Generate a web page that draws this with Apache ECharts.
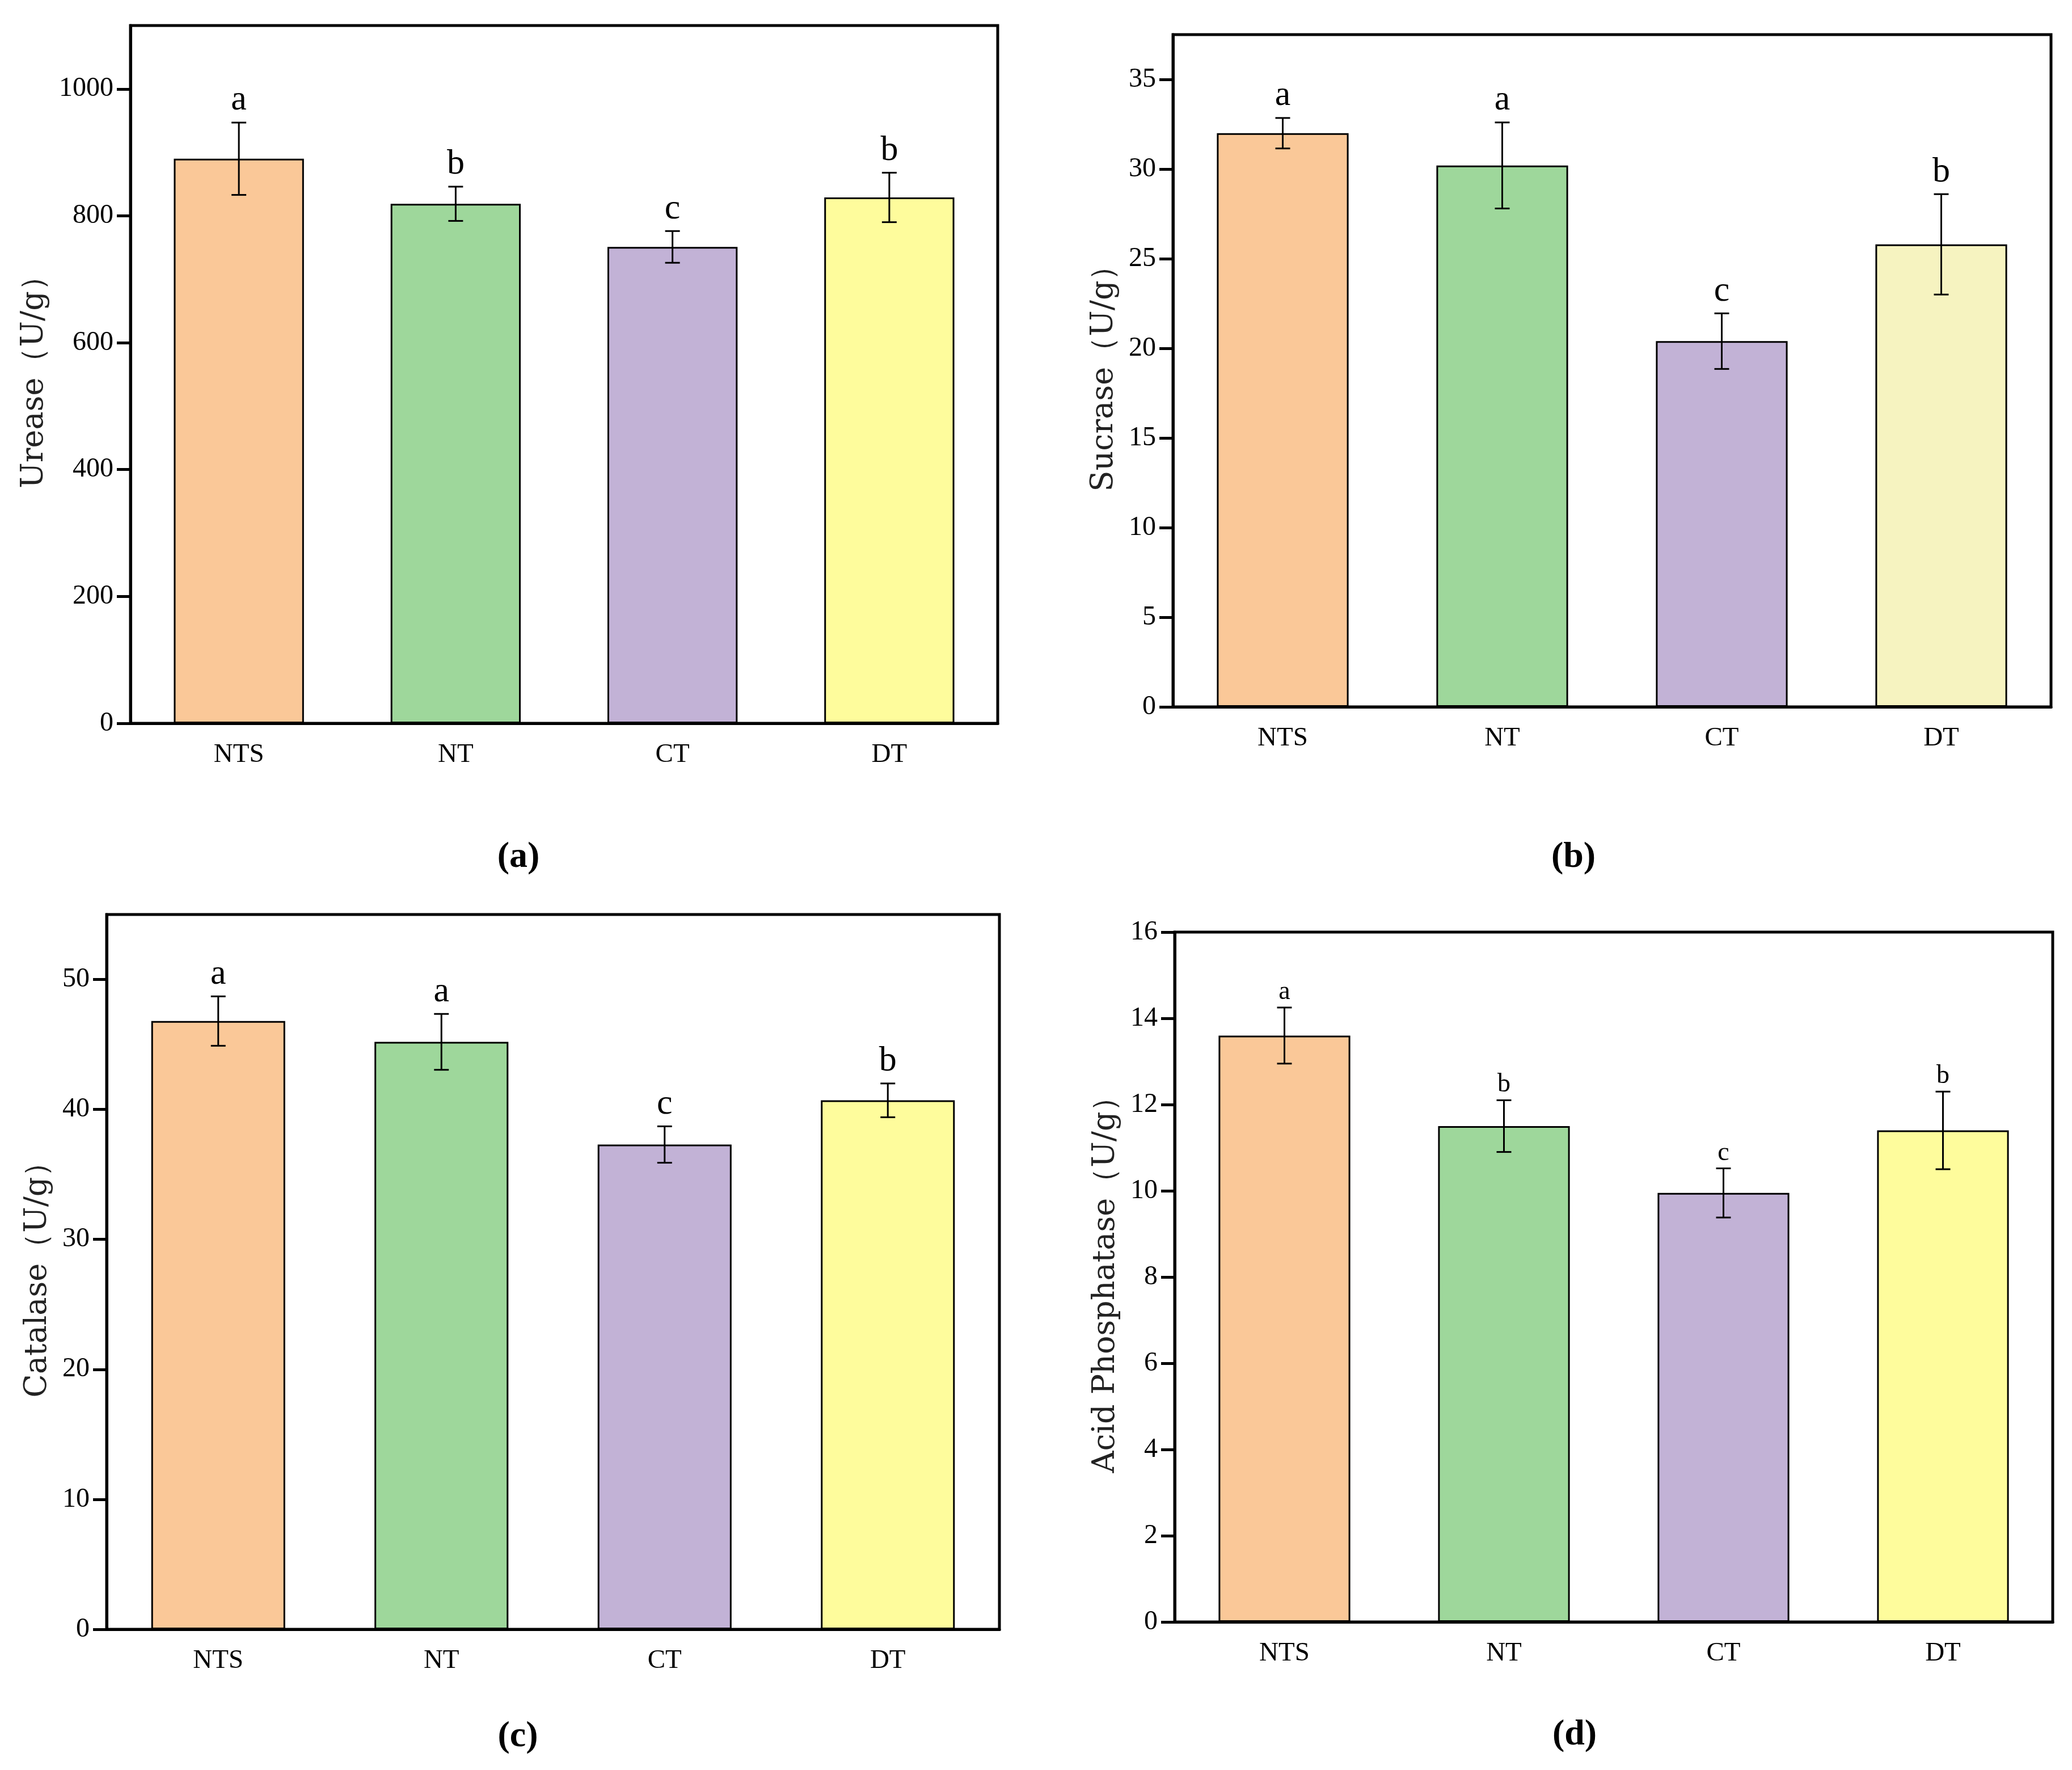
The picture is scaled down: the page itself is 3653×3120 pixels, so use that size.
<!DOCTYPE html>
<html>
<head>
<meta charset="utf-8">
<script src="https://cdn.jsdelivr.net/npm/echarts@6/dist/echarts.min.js"></script>
<style>
  html, body { margin: 0; padding: 0; background: #fff; }
  #main { width: 3653px; height: 3120px; }
</style>
</head>
<body>
<div id="main"></div>
<script>
var categories = ['NTS', 'NT', 'CT', 'DT'];

// (a) Urease
var ureaseMean = [890, 819, 751, 829];
var ureaseErr = [57, 27, 25, 39];
var ureaseSig = ['a', 'b', 'c', 'b'];
var ureaseTicks = [0, 200, 400, 600, 800, 1000];

// (b) Sucrase
var sucraseMean = [32.0, 30.2, 20.4, 25.8];
var sucraseErr = [0.85, 2.4, 1.55, 2.8];
var sucraseSig = ['a', 'a', 'c', 'b'];
var sucraseTicks = [0, 5, 10, 15, 20, 25, 30, 35];

// (c) Catalase
var catalaseMean = [46.8, 45.2, 37.3, 40.7];
var catalaseErr = [1.9, 2.15, 1.4, 1.3];
var catalaseSig = ['a', 'a', 'c', 'b'];
var catalaseTicks = [0, 10, 20, 30, 40, 50];

// (d) Acid phosphatase
var acpMean = [13.6, 11.5, 9.95, 11.4];
var acpErr = [0.65, 0.6, 0.57, 0.9];
var acpSig = ['a', 'b', 'c', 'b'];
var acpTicks = [0, 2, 4, 6, 8, 10, 12, 14, 16];

var barColors = ['#FAC898', '#9ED79B', '#C2B2D6', '#FEFC9C'];
var barColorsB = ['#FAC898', '#9ED79B', '#C2B2D6', '#F6F3C0'];

var myChart = echarts.init(document.getElementById('main'));
var tickFont = 'Liberation Serif';

var grids = [
  { left: 230, top: 45, width: 1529, height: 1230 },
  { left: 2068, top: 61, width: 1548, height: 1185 },
  { left: 188, top: 1612, width: 1574, height: 1260 },
  { left: 2071, top: 1643, width: 1548, height: 1216 }
];
grids.forEach(function (g) {
  g.show = true;
  g.borderColor = '#000';
  g.borderWidth = 5;
  g.backgroundColor = 'transparent';
});

function xAx(idx) {
  return {
    type: 'category', gridIndex: idx, data: categories,
    axisTick: { show: false },
    axisLine: { lineStyle: { color: '#000', width: 5 } },
    axisLabel: { color: '#000', fontFamily: tickFont, fontSize: 47, margin: 32 }
  };
}
function yAx(idx, max, interval, ticks, name, gap) {
  return {
    type: 'value', gridIndex: idx, min: 0, max: max, interval: interval,
    name: name, nameLocation: 'middle', nameGap: gap,
    nameTextStyle: { color: '#222', fontFamily: 'DejaVu Serif', fontSize: 54 },
    splitLine: { show: false },
    axisLine: { show: true, lineStyle: { color: '#000', width: 5 } },
    axisTick: { show: true, inside: false, length: 24, lineStyle: { color: '#000', width: 5 }, customValues: ticks },
    axisLabel: {
      color: '#000', fontFamily: tickFont, fontSize: 48, margin: 30, customValues: ticks,
      formatter: function (v) { return String(v); }
    }
  };
}

function barSeries(idx, means, colors) {
  return {
    type: 'bar', xAxisIndex: idx, yAxisIndex: idx, barWidth: '60%',
    data: means.map(function (v, i) {
      return { value: v, itemStyle: { color: colors[i], borderColor: '#000', borderWidth: 3 } };
    })
  };
}

function errSeries(idx, means, errs, sigs, fontSize, gapPx) {
  return {
    type: 'custom', xAxisIndex: idx, yAxisIndex: idx, z: 5,
    data: means.map(function (v, i) { return [i, v + errs[i], v - errs[i], sigs[i]]; }),
    renderItem: function (params, api) {
      var i = api.value(0);
      var hi = api.coord([i, api.value(1)]);
      var lo = api.coord([i, api.value(2)]);
      var half = 13;
      var st = { stroke: '#000', lineWidth: 3 };
      return {
        type: 'group',
        children: [
          { type: 'line', shape: { x1: hi[0], y1: hi[1], x2: lo[0], y2: lo[1] }, style: st },
          { type: 'line', shape: { x1: hi[0] - half, y1: hi[1], x2: hi[0] + half, y2: hi[1] }, style: st },
          { type: 'line', shape: { x1: lo[0] - half, y1: lo[1], x2: lo[0] + half, y2: lo[1] }, style: st },
          {
            type: 'text',
            style: {
              x: hi[0], y: hi[1] - gapPx, text: sigs[i],
              fill: '#000', font: fontSize + 'px "Liberation Serif"',
              textAlign: 'center', textVerticalAlign: 'bottom'
            }
          }
        ]
      };
    }
  };
}

var panelLabels = [
  { t: '(a)', x: 914, y: 1511 },
  { t: '(b)', x: 2774, y: 1511 },
  { t: '(c)', x: 913, y: 3061 },
  { t: '(d)', x: 2776, y: 3058 }
];

var option = {
  backgroundColor: '#fff',
  animation: false,
  grid: grids,
  xAxis: [xAx(0), xAx(1), xAx(2), xAx(3)],
  yAxis: [
    yAx(0, 1100, 200, ureaseTicks, 'Urease（U/g）', 142),
    yAx(1, 37.5, 5, sucraseTicks, 'Sucrase（U/g）', 94),
    yAx(2, 55, 10, catalaseTicks, 'Catalase（U/g）', 94),
    yAx(3, 16, 2, acpTicks, 'Acid Phosphatase（U/g）', 94)
  ],
  graphic: panelLabels.map(function (p) {
    return {
      type: 'text', x: p.x, y: p.y,
      style: {
        text: p.t, fill: '#000', font: 'bold 64px "Liberation Serif"',
        textAlign: 'center', textVerticalAlign: 'middle'
      }
    };
  }),
  series: [
    barSeries(0, ureaseMean, barColors),
    errSeries(0, ureaseMean, ureaseErr, ureaseSig, 62, 8),
    barSeries(1, sucraseMean, barColorsB),
    errSeries(1, sucraseMean, sucraseErr, sucraseSig, 62, 8),
    barSeries(2, catalaseMean, barColors),
    errSeries(2, catalaseMean, catalaseErr, catalaseSig, 62, 8),
    barSeries(3, acpMean, barColors),
    errSeries(3, acpMean, acpErr, acpSig, 46, 4)
  ]
};

myChart.setOption(option);
</script>
</body>
</html>
